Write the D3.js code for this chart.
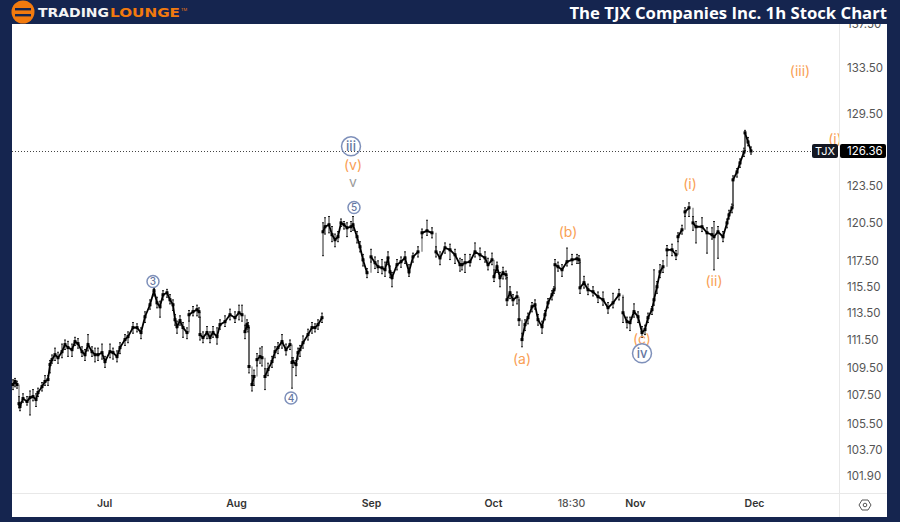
<!DOCTYPE html>
<html><head><meta charset="utf-8">
<script src="https://cdn.jsdelivr.net/npm/d3@7/dist/d3.min.js"></script>
<style>html,body{margin:0;padding:0;background:#15254f}svg{display:block}</style>
</head><body><svg id="c" width="900" height="522"></svg>
<script>
const barNo=[1,3,5,7,8,11,15,18,21,24,26,30,33,36,38,40,43,46,50,53,56,60,63,66,70,73,76,80,83,86,90,93,98,101,105,108,113,116,121,125,129,133,138,142,145,148,151,155,158,161,163,165,168,171,175,177,181,185,187,188,191,195,198,201,205,208,213,218,223,227,230,233,235,236,237,240,242,245,248,250,253,256,260,263,266,270,274,278,280,281,284,286,288,291,296,300,303,306,310,311,313,317,320,323,326,329,332,335,339,341,345,348,351,355,359,363,366,370,373,376,378,380,385,389,393,397,401,406,410,415,420,424,428,433,438,443,448,450,453,458,463,468,473,476,480,482,485,488,491,494,495,498,501,505,507,510,513,516,520,523,526,530,533,536,540,542,543,546,550,555,560,565,567,568,572,576,581,586,591,596,601,607,611,615,618,622,626,630,633,636,640,642,645,648,651,655,660,664,666,670,673,677,681,684,690,695,700,702,706,711,715,717,720,721,725,728,732,733,736,739];
const closes=[108.26,108.48,108.26,106.9,106.7,107.26,107.05,107.33,107.4,107.19,107.69,108.11,108.48,108.62,109.7,110.06,110.42,110.2,110.64,111.16,110.94,110.79,111.38,111.23,110.64,110.42,111.16,110.64,110.42,110.42,110.57,109.92,110.64,110.57,110.28,110.94,111.53,111.75,112.42,112.42,112.05,113.23,114.13,115.2,114.28,113.98,114.89,115.04,114.51,114.13,113.01,112.49,112.94,112.42,112.05,113.38,113.61,113.76,113.61,111.9,111.68,112.05,111.68,112.05,111.75,112.64,112.86,113.38,113.16,113.53,113.38,112.12,112.64,112.49,109.56,108.26,108.84,110.06,110.28,110.2,108.84,109.34,109.92,110.64,110.94,111.38,110.79,111.16,109.85,109.92,109.7,110.57,110.79,111.3,111.9,112.42,112.42,112.64,113.16,119.78,120.18,120.34,119.55,119.15,119.39,120.49,120.34,120.1,120.18,120.34,119.39,118.6,117.58,116.58,117.81,117.35,117.04,116.96,116.81,117.73,116.65,116.2,117.2,117.43,117.73,116.65,117.81,118.2,119.7,119.86,119.7,118.2,117.73,118.52,118.36,117.97,117.2,117.2,117.35,117.43,118.2,117.97,117.73,117.2,117.58,116.27,117.04,116.2,116.58,116.42,114.51,115.04,114.51,114.74,113.01,111.53,112.64,113.16,113.98,114.13,113.01,112.49,113.38,114.28,114.89,115.27,117.2,117.04,116.81,117.43,117.58,117.66,117.58,115.42,115.81,115.27,115.12,114.74,114.51,113.91,114.28,114.89,113.53,112.86,112.79,113.61,113.23,112.05,112.27,113.16,113.76,114.51,115.5,116.65,117.04,118.36,118.36,117.97,119.39,119.94,121.37,121.7,120.49,120.18,120.18,119.7,119.55,119.39,119.78,119.39,120.49,121.13,121.7,123.97,124.62,125.37,126.28,127.89,127.12,126.36];
const highs=[108.6,108.7,108.5,107.4,107,107.6,107.4,107.8,107.9,107.6,108,108.4,108.9,108.9,110,110.4,110.9,110.6,111.2,111.5,111.4,111.2,111.7,111.6,111,110.8,111.9,111,110.9,110.9,111.2,110.3,111.2,110.9,110.7,111.3,111.9,112.1,112.8,112.7,112.4,113.6,114.5,115.4,114.7,114.4,115.2,115.3,114.9,114.5,113.4,112.9,113.3,112.8,112.4,113.7,114,114.1,113.9,113.2,112.1,112.5,112.1,112.5,112.4,113,113.3,113.8,113.6,114.1,114.1,112.6,113,112.8,112.4,108.9,109.3,110.5,110.9,111,109.4,109.8,110.3,111,111.3,111.9,111.2,111.5,110.2,110.2,110,110.9,111.1,111.8,112.3,112.8,112.7,113,113.5,120.5,120.9,121,120.2,119.6,119.8,120.8,120.6,120.5,120.6,121,119.8,119,118,116.9,118.4,117.8,117.5,117.6,117.4,118.2,117.1,116.6,117.6,117.8,118.2,117.2,118.1,118.6,120,120.7,120.1,118.6,118.2,118.9,118.8,118.4,117.7,117.6,118,118,118.9,118.5,118.2,117.7,118.1,116.8,117.4,116.6,117,116.7,116.2,115.5,114.9,115.1,114.5,112,113,113.5,114.3,114.5,113.4,112.9,113.7,114.6,115.2,115.5,117.6,117.4,117.2,118.5,118,118,117.9,117.4,116.3,115.7,115.5,115.1,115.1,114.3,115,115.3,114.7,113.2,113.2,114.2,113.6,112.5,112.6,113.5,114,116.8,115.9,117.2,117.5,118.7,118.8,118.3,119.7,120.3,121.7,122.1,121,120.6,120.9,120.1,120.1,120.6,120.2,119.8,120.8,121.5,122,124.3,124.9,125.7,126.6,128.1,127.5,126.7];
const lows=[107.9,108.1,108,106.6,106.4,107,106.8,106.1,107.1,106.7,107.4,107.8,108.2,108.2,109.1,109.8,110,109.8,110.2,110.8,110.3,110.3,111.1,110.9,110.3,110,110.7,110.3,109.9,110,110.1,109.5,110.2,110.1,109.9,110.5,111.1,111.3,112,112.1,111.6,112.8,113.8,114.8,113.9,113.2,114.5,114.7,114.2,113.7,112.6,112,112.6,111.7,111.6,112.9,113.3,113.3,113.2,111.5,111.3,111.6,111.3,111.7,111.2,112.3,112.5,113,112.8,113,112.9,111.6,112.3,112.1,109.1,107.8,108.2,109.6,109.8,109.6,107.9,108.9,109.5,110.2,110.5,110.9,110.4,110.8,108,109.5,108.9,110.1,110.3,110.9,111.5,112,112.1,112.3,112.8,117.9,119.6,119.7,119,118.6,119,120.2,120,119.4,119.8,119.9,118.9,118.2,117.1,116.2,117.4,116.9,116.6,116.5,116.3,117.2,116.2,115.5,116.8,117,117.3,116.3,117.4,117.8,119.3,119.5,119.3,117.8,117.2,118.1,117.6,117.3,116.7,116.8,116.6,117.1,117.8,117.6,117.4,116.8,117.2,115.9,116.6,115.5,116.1,116.1,114.1,114.6,114.1,114.2,112.6,111,112.2,112.7,113.6,113.8,112.6,112,113,113.9,114.5,115,115.4,116.7,116.3,117.1,117.2,117.3,117.3,115,115.4,114.9,114.8,114.3,114.1,113.5,113.9,114.5,112.8,112.4,112.2,113.2,112.8,111.7,111.9,112.8,113.4,114.1,115,116.2,116.6,117.9,117.9,117.6,119,119.6,121,121,119.9,118.9,119.8,118.1,119.2,116.8,117.7,119,120.1,120.8,121.3,121.9,124.2,125,125.9,126.4,126.8,126.1];

const priceTicks=[137.5,133.5,129.5,123.5,120.5,117.5,115.5,113.5,111.5,109.5,107.5,105.5,103.7,101.9];
const monthBars=[92,224,359,481,559,623,742];
const monthLabels=["Jul","Aug","Sep","Oct","18:30","Nov","Dec"];
const lastPrice=126.36;
const waveText=["(v)","v","(a)","(b)","(c)","(i)","(ii)","(iii)","(i)"];
const waveBar=[341,341,510,556,630,678,702,788,823];
const wavePrice=[125.2,123.8,110.13,119.75,111.53,123.65,115.9,133.2,127.4];
const waveKind=["o","g","o","o","o","o","o","o","o"];
const circleText=["3","4","5","iii","iv"];
const circleBar=[141,279,342,339,630];
const circlePrice=[115.9,107.3,121.72,126.75,110.52];
const circleR=[6,6,6,9.5,9.5];

const W=900,H=522,L=12,R=839,T=24,B=493,RE=887,BE=517;
const NAVY="#15254f",ORANGE="#f9a055",BLUE="#7e90ba";
const x=d3.scaleLinear().domain([0,827]).range([L,R]);
const y=d3.scaleLog().domain([133.5,101.9]).range([68,476]);
const svg=d3.select("#c");
const defs=svg.append("defs");
defs.append("filter").attr("id","soft").attr("x","-5%").attr("y","-5%").attr("width","110%").attr("height","110%")
  .append("feGaussianBlur").attr("stdDeviation",0.35);
svg.append("rect").attr("width",W).attr("height",H).attr("fill",NAVY);
svg.append("rect").attr("x",L).attr("y",T).attr("width",RE-L).attr("height",BE-T).attr("fill","#fff");
const font="Inter,'Liberation Sans',sans-serif";

svg.append("line").attr("x1",R+.5).attr("x2",R+.5).attr("y1",T).attr("y2",BE).attr("stroke","#e8e8e8");
svg.append("line").attr("x1",L).attr("x2",RE).attr("y1",B+.5).attr("y2",B+.5).attr("stroke","#e8e8e8");

const yAxis=svg.append("g").attr("transform",`translate(${R},0)`)
  .call(d3.axisRight(y).tickValues(priceTicks).tickSize(0).tickPadding(8).tickFormat(d3.format(".2f")));
yAxis.select(".domain").remove();
yAxis.selectAll("text").attr("font-family",font).attr("font-size",11.5).attr("fill","#555");
const xAxis=svg.append("g").attr("transform",`translate(0,${B})`)
  .call(d3.axisBottom(x).tickValues(monthBars).tickSize(0).tickPadding(7).tickFormat((d,i)=>monthLabels[i]));
xAxis.select(".domain").remove();
xAxis.selectAll("text").attr("font-family",font).attr("font-size",10.5)
  .attr("font-weight",(d,i)=>monthLabels[i]==="18:30"?500:600)
  .attr("fill",(d,i)=>monthLabels[i]==="18:30"?"#555":"#333");

svg.append("line").attr("x1",L).attr("x2",R).attr("y1",Math.round(y(lastPrice))+.5).attr("y2",Math.round(y(lastPrice))+.5)
  .attr("stroke","#444").attr("stroke-width",1).attr("stroke-dasharray","1 2");

const bars=barNo.map((b,i)=>({b,c:closes[i],h:highs[i],l:lows[i],p:i?closes[i-1]:closes[i]}));
const isGap=d=>Math.abs(d.c-d.p)>1.2;
const plot=svg.append("g").attr("filter","url(#soft)");
plot.selectAll("line.gap").data(bars.filter(isGap)).join("line").attr("class","gap")
  .attr("x1",d=>x(d.b)).attr("x2",d=>x(d.b)).attr("y1",d=>y(Math.min(d.p,d.c))).attr("y2",d=>y(Math.max(d.p,d.c)))
  .attr("stroke",d=>(d.b===311)?"none":"#777").attr("stroke-width",1.2);
plot.selectAll("line.wick").data(bars).join("line").attr("class","wick")
  .attr("x1",d=>x(d.b)).attr("x2",d=>x(d.b)).attr("y1",d=>y(d.h)).attr("y2",d=>y(d.l))
  .attr("stroke","#222").attr("stroke-width",1);
["h","l"].forEach(k=>{
  plot.selectAll("line.cap"+k).data(bars).join("line").attr("class","cap"+k)
    .attr("x1",d=>x(d.b)-1).attr("x2",d=>x(d.b)+1).attr("y1",d=>y(d[k])).attr("y2",d=>y(d[k]))
    .attr("stroke","#222").attr("stroke-width",1);
});
const segLine=d3.line().defined(d=>!d.brk).x(d=>x(d.b)).y(d=>y(d.c));
const lineData=[];
bars.forEach(d=>{ if(isGap(d)) lineData.push({brk:true}); lineData.push(d); });
plot.append("path").attr("d",segLine(lineData)).attr("fill","none").attr("stroke","#000").attr("stroke-width",1.8);
plot.selectAll("rect").data(bars).join("rect")
  .attr("x",d=>x(d.b)-1.5).attr("width",3)
  .attr("y",d=>y(d.c)-1.5).attr("height",3).attr("fill","#000");

svg.append("clipPath").attr("id","pane").append("rect").attr("x",L).attr("y",T).attr("width",R-L).attr("height",B-T);
const waves=svg.append("g").attr("clip-path","url(#pane)");
waves.selectAll("text").data(waveText).join("text")
  .attr("x",(d,i)=>x(waveBar[i])).attr("y",(d,i)=>y(wavePrice[i])).attr("dy","0.35em")
  .attr("text-anchor","middle").attr("font-family",font).attr("font-size",14)
  .attr("fill",(d,i)=>waveKind[i]==="o"?ORANGE:"#9a9a9a").text(d=>d);
const circles=svg.append("g").selectAll("g").data(circleText).join("g")
  .attr("transform",(d,i)=>`translate(${x(circleBar[i])},${y(circlePrice[i])})`);
circles.append("circle").attr("r",(d,i)=>circleR[i]).attr("fill","none").attr("stroke",BLUE).attr("stroke-width",1.5);
circles.append("text").attr("text-anchor","middle").attr("dy","0.36em").attr("font-family",font)
  .attr("font-size",(d,i)=>circleR[i]>7?13:10).attr("font-weight",500).attr("fill","#66779f").text(d=>d);

const ty=y(lastPrice);
svg.append("rect").attr("x",812).attr("y",ty-7).attr("width",26).attr("height",14).attr("rx",2).attr("fill","#131722");
svg.append("text").attr("x",825).attr("y",ty).attr("dy","0.36em").attr("text-anchor","middle").attr("font-family",font).attr("font-size",11).attr("fill","#fff").text("TJX");
svg.append("rect").attr("x",840).attr("y",ty-7).attr("width",46).attr("height",14).attr("rx",2).attr("fill","#000");
svg.append("text").attr("x",847).attr("y",ty).attr("dy","0.36em").attr("font-family",font).attr("font-size",11.5).attr("fill","#fff").text(d3.format(".2f")(lastPrice));

const gear=svg.append("g").attr("transform","translate(865,505)");
gear.append("path").attr("d",d3.line()([[-6,0],[-3,-5],[3,-5],[6,0],[3,5],[-3,5]])+"Z").attr("fill","none").attr("stroke","#555").attr("stroke-width",1);
gear.append("circle").attr("r",1.8).attr("fill","none").attr("stroke","#555");

svg.append("rect").attr("width",W).attr("height",T).attr("fill",NAVY);
svg.append("text").attr("x",887).attr("y",19).attr("text-anchor","end").attr("font-family","'Open Sans',sans-serif")
  .attr("font-size",16.7).attr("font-weight",700).attr("fill","#fff").text("The TJX Companies Inc. 1h Stock Chart");
const logo=svg.append("g");
logo.append("circle").attr("cx",23).attr("cy",12).attr("r",11.5).attr("fill","#f27a0e");
[8,14].forEach(v=>logo.append("rect").attr("x",15).attr("y",v).attr("width",16).attr("height",2.4).attr("fill",NAVY));
logo.append("text").attr("x",38).attr("y",17).attr("font-family","'DejaVu Sans',sans-serif").attr("font-weight",700).attr("font-size",12.5)
  .attr("textLength",71).attr("lengthAdjust","spacingAndGlyphs").attr("fill","#f4f4f4").text("TRADING");
logo.append("text").attr("x",110).attr("y",17).attr("font-family","'DejaVu Sans',sans-serif").attr("font-weight",700).attr("font-size",12.5)
  .attr("textLength",70).attr("lengthAdjust","spacingAndGlyphs").attr("fill","#f27a0e").text("LOUNGE");
logo.append("text").attr("x",181).attr("y",11).attr("font-family",font).attr("font-size",4).attr("fill","#f27a0e").text("TM");
</script></body></html>
